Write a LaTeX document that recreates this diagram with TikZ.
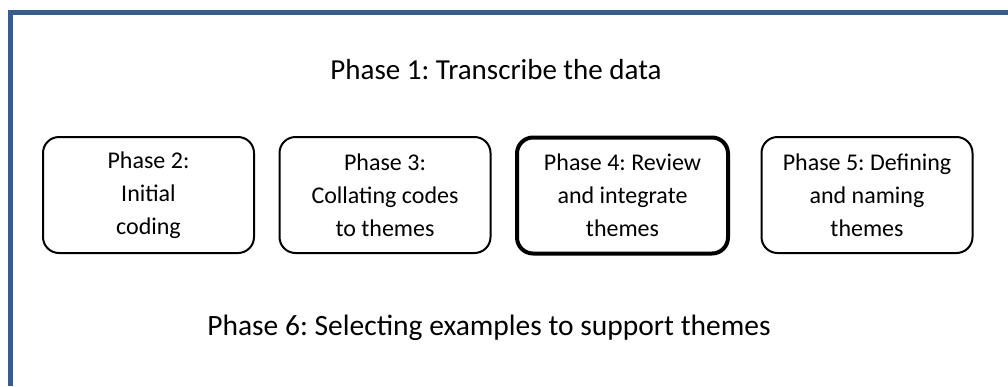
\documentclass[tikz,border=0pt]{standalone}
\usepackage{fontspec}
\setmainfont{Carlito}
\frenchspacing
\definecolor{frameblue}{RGB}{56,93,138}
\begin{document}
\begin{tikzpicture}[x=1pt,y=-1pt,
	phasebox/.style={draw,rounded corners=16pt,line width=2pt,minimum width=211pt,minimum height=116pt,align=center,font=\fontsize{24}{33}\selectfont}]
\useasboundingbox (0,0) rectangle (1008,386);
\draw [frameblue, line width=5pt] (10,386) -- (10,12) -- (1008,12);
\node (p1) at (496,70) {\fontsize{29}{35}\selectfont Phase 1: Transcribe the data};
\foreach \n/\x/\txt in {2/148.5/{Phase 2:\\Initial\\coding},3/385/{Phase 3:\\Collating codes\\to themes},5/867/{Phase 5: Defining\\and naming\\themes}}
	\node [phasebox] (p\n) at (\x,195) {\txt};
\node [phasebox, line width=4pt] (p4) at (622.5,195.5) {Phase 4: Review\\and integrate\\themes};
\node (p6) at (489,328) {\fontsize{29.5}{35}\selectfont Phase 6: Selecting examples to support themes};
\end{tikzpicture}
\end{document}
